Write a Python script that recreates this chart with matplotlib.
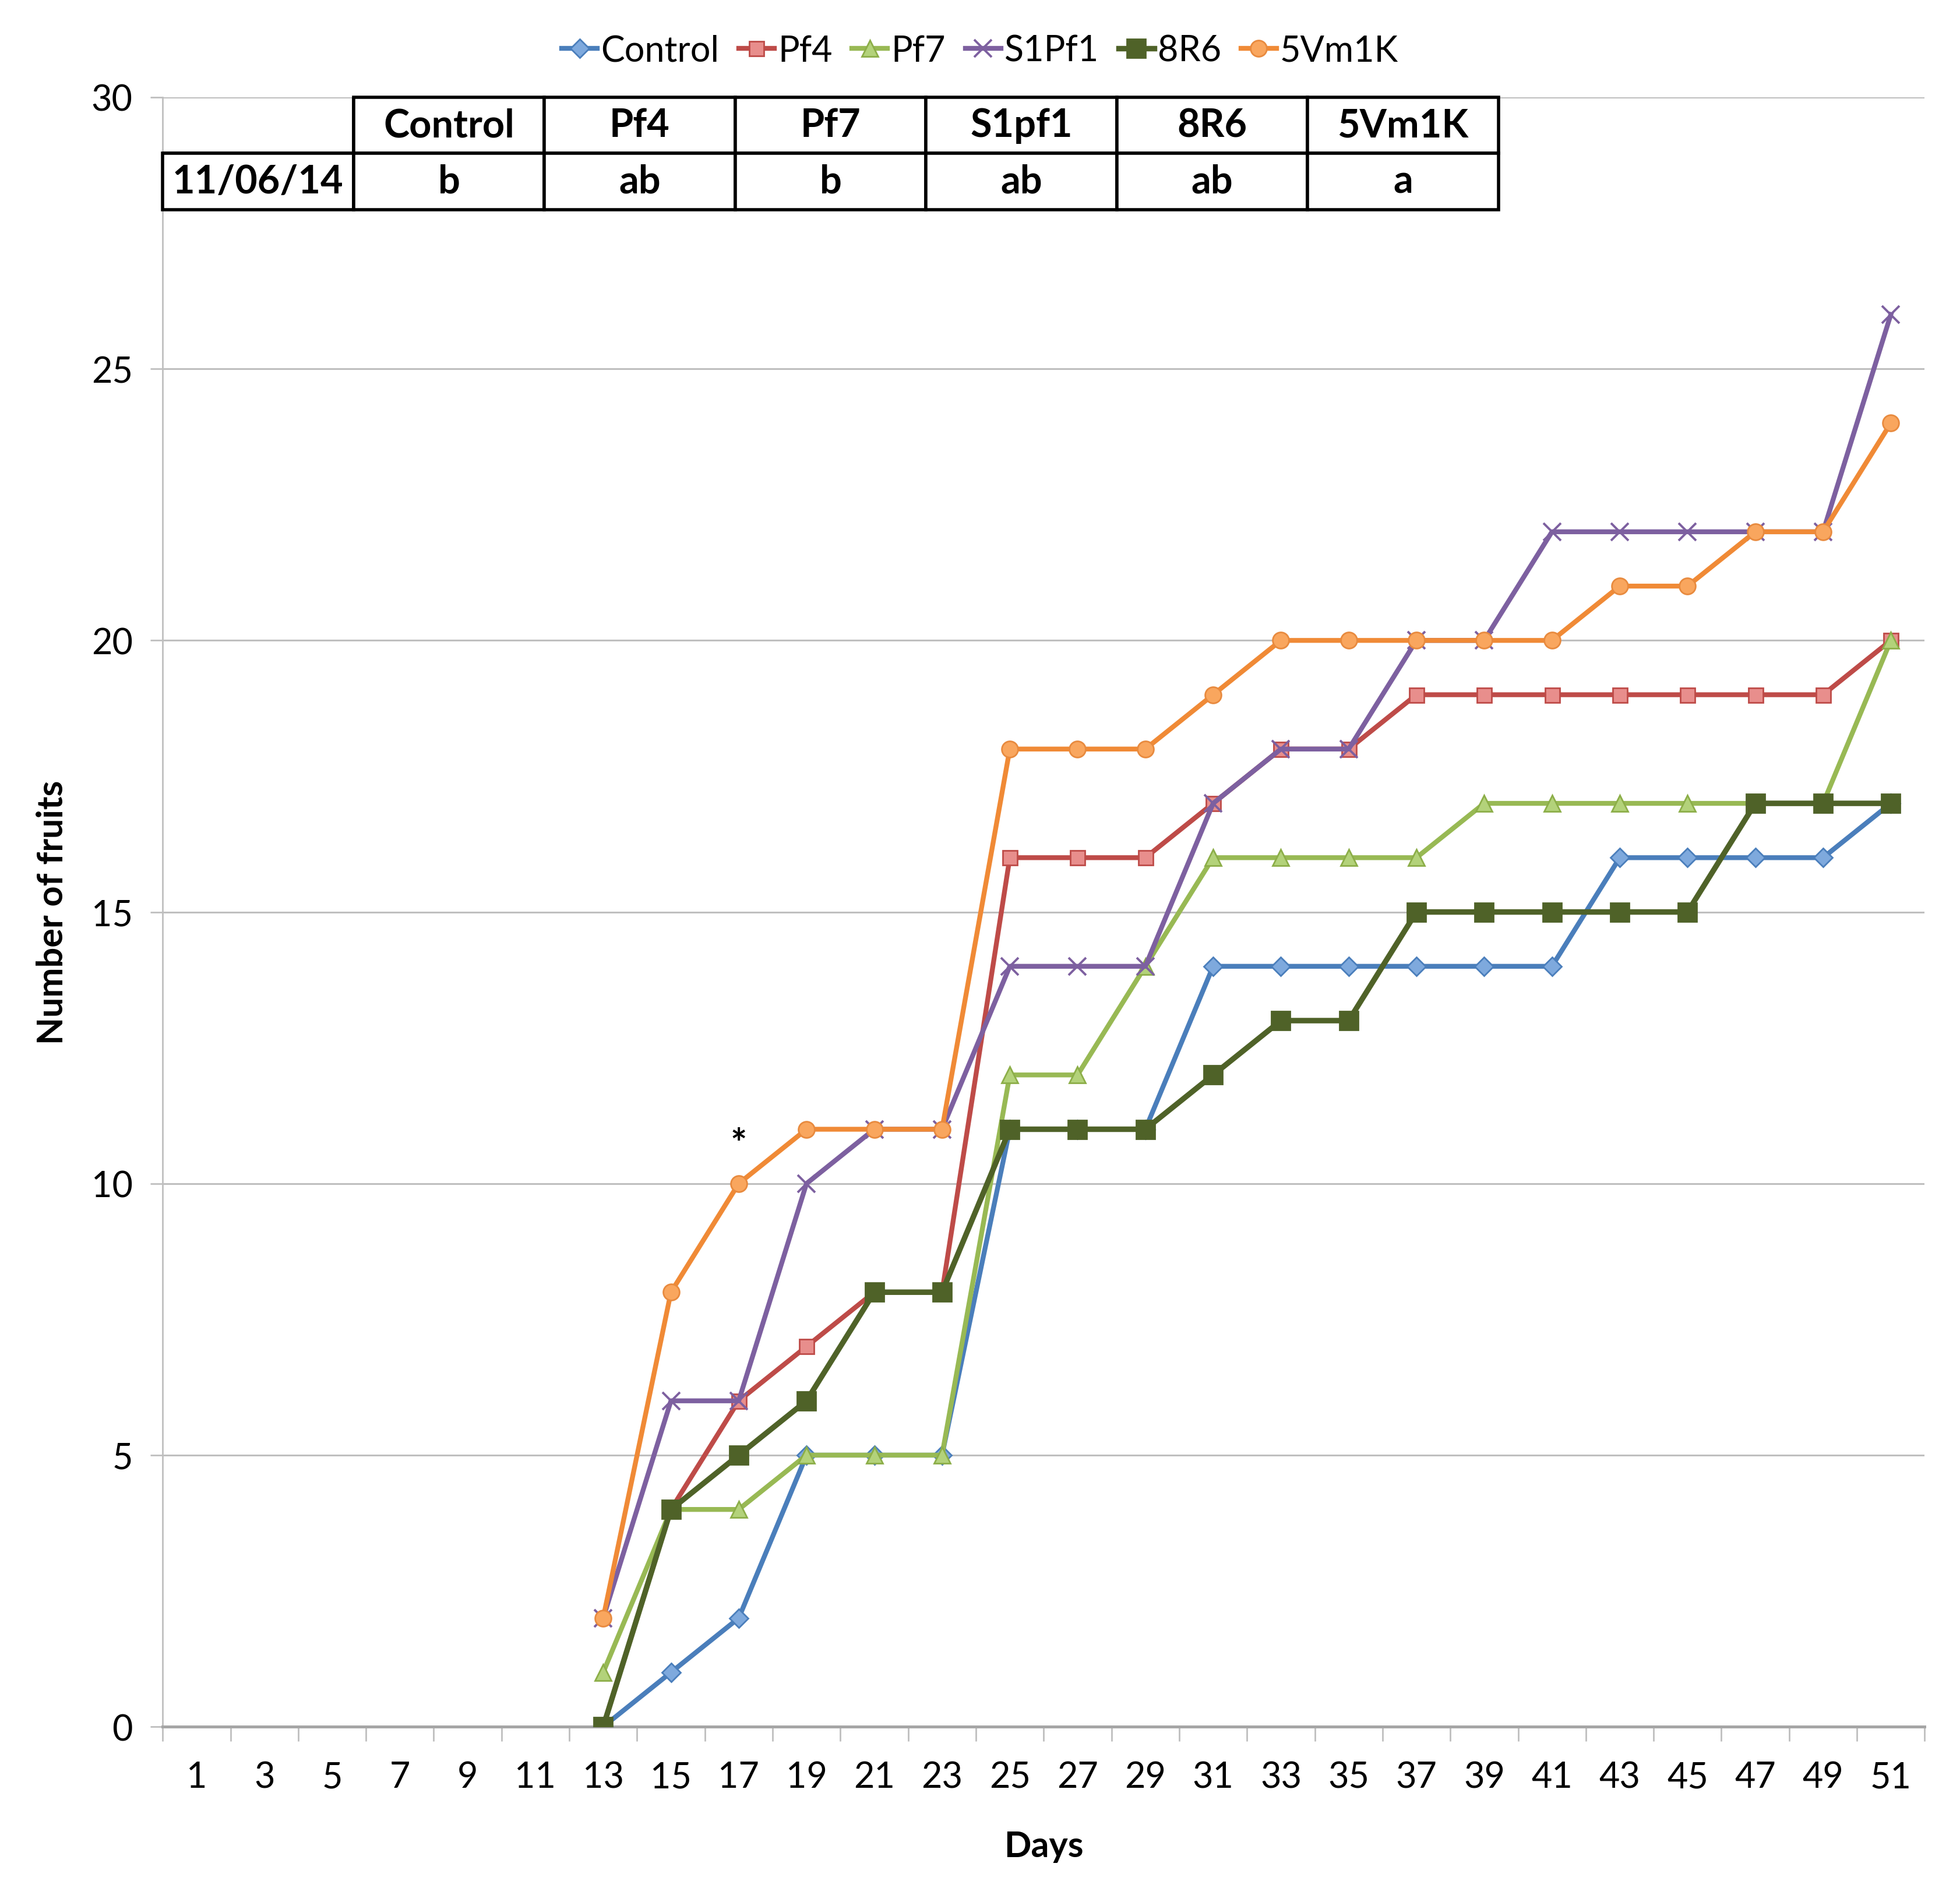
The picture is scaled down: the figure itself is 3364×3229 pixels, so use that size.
import numpy as np
import matplotlib
matplotlib.use("Agg")
import matplotlib.pyplot as plt

plt.rcParams['font.family'] = ['Lato', 'DejaVu Sans']

days = [1, 3, 5, 7, 9, 11, 13, 15, 17, 19, 21, 23, 25, 27, 29, 31, 33, 35, 37, 39, 41, 43, 45, 47, 49, 51]
_ = None
control = [_, _, _, _, _, _, 0, 1, 2, 5, 5, 5, 11, 11, 11, 14, 14, 14, 14, 14, 14, 16, 16, 16, 16, 17]
pf4 = [_, _, _, _, _, _, 0, 4, 6, 7, 8, 8, 16, 16, 16, 17, 18, 18, 19, 19, 19, 19, 19, 19, 19, 20]
pf7 = [_, _, _, _, _, _, 1, 4, 4, 5, 5, 5, 12, 12, 14, 16, 16, 16, 16, 17, 17, 17, 17, 17, 17, 20]
s1pf1 = [_, _, _, _, _, _, 2, 6, 6, 10, 11, 11, 14, 14, 14, 17, 18, 18, 20, 20, 22, 22, 22, 22, 22, 26]
r86 = [_, _, _, _, _, _, 0, 4, 5, 6, 8, 8, 11, 11, 11, 12, 13, 13, 15, 15, 15, 15, 15, 17, 17, 17]
vm1k = [_, _, _, _, _, _, 2, 8, 10, 11, 11, 11, 18, 18, 18, 19, 20, 20, 20, 20, 20, 21, 21, 22, 22, 24]

names = ["Control", "Pf4", "Pf7", "S1Pf1", "8R6", "5Vm1K"]
table_head = ["", "Control", "Pf4", "Pf7", "S1pf1", "8R6", "5Vm1K"]
table_row = ["11/06/14", "b", "ab", "b", "ab", "ab", "a"]
star_day = 17
star_y = 10.7

# line colour, marker, marker face, marker edge, marker size, line width
styles = [
    ("#4A7EBB", "D", "#7EA9DD", "#4A7EBB", 8, 3.0),
    ("#BE4B48", "s", "#E88E8C", "#BE4B48", 9, 3.0),
    ("#98B954", "^", "#B3D27A", "#8CAE48", 10, 3.0),
    ("#7D60A0", "x", "#7D60A0", "#7D60A0", 11, 3.0),
    ("#4F6228", "s", "#4F6228", "#4F6228", 11.5, 3.4),
    ("#F08A36", "o", "#F9A65E", "#E88A3E", 10, 3.0),
]

fig = plt.figure(figsize=(16.82, 16.15), dpi=200)
ax = fig.add_axes([0.083, 0.082, 0.899, 0.866])

x = np.arange(len(days))
series = [control, pf4, pf7, s1pf1, r86, vm1k]
handles = []
for name, vals, st in zip(names, series, styles):
    col, mk, fc, ec, ms, lw = st
    y = np.array([np.nan if v is None else v for v in vals], dtype=float)
    h, = ax.plot(x, y, color=col, lw=lw, marker=mk, markersize=ms,
                 markerfacecolor=fc, markeredgecolor=ec,
                 markeredgewidth=1.4 if mk == "x" else 1.0, label=name, zorder=3)
    handles.append(h)

ax.text(days.index(star_day), star_y, "*", ha="center", va="center",
        fontsize=24, fontweight="bold", zorder=4)

ax.set_xlim(-0.5, len(days) - 0.5)
ax.set_ylim(0, 30)
ax.set_yticks(range(0, 31, 5))
ax.set_xticks(x)
ax.set_xticklabels([str(d) for d in days])
ax.set_xticks(np.arange(-0.5, len(days), 1.0), minor=True)
ax.tick_params(axis="x", which="major", length=0, pad=21, labelsize=22)
ax.tick_params(axis="x", which="minor", length=9, width=1.0, color="#BFBFBF")
ax.tick_params(axis="y", which="major", length=7.5, width=1.0, color="#BFBFBF",
               pad=11, labelsize=22)

ax.yaxis.grid(True, color="#BFBFBF", lw=1.1)
ax.set_axisbelow(True)
for s in ["top", "right"]:
    ax.spines[s].set_visible(False)
ax.spines["left"].set_color("#BFBFBF")
ax.spines["left"].set_linewidth(1.0)
ax.spines["bottom"].set_color("#A6A6A6")
ax.spines["bottom"].set_linewidth(1.8)

ax.set_xlabel("Days", fontsize=22, fontweight="bold", labelpad=22)
ax.set_ylabel("Number of fruits", fontsize=22, fontweight="bold", labelpad=14)

tbl = ax.table(cellText=[table_head, table_row], cellLoc="center",
               bbox=[0.0, 0.931, 0.758, 0.069])
tbl.auto_set_font_size(False)
for (r, c), cell in tbl.get_celld().items():
    cell.set_linewidth(2.0)
    cell.set_edgecolor("black")
    cell.get_text().set_fontsize(24)
    cell.get_text().set_fontweight("bold")
    if r == 0 and c == 0:
        cell.visible_edges = "BR"
        cell.set_facecolor("none")
tbl.set_zorder(5)

fig.legend(handles=handles, loc="center", bbox_to_anchor=(0.5, 1 - 88 / 3230),
           ncol=6, frameon=False, fontsize=22, handlelength=1.0,
           handletextpad=0.1, columnspacing=0.55)

fig.savefig("out.png", dpi=200)
